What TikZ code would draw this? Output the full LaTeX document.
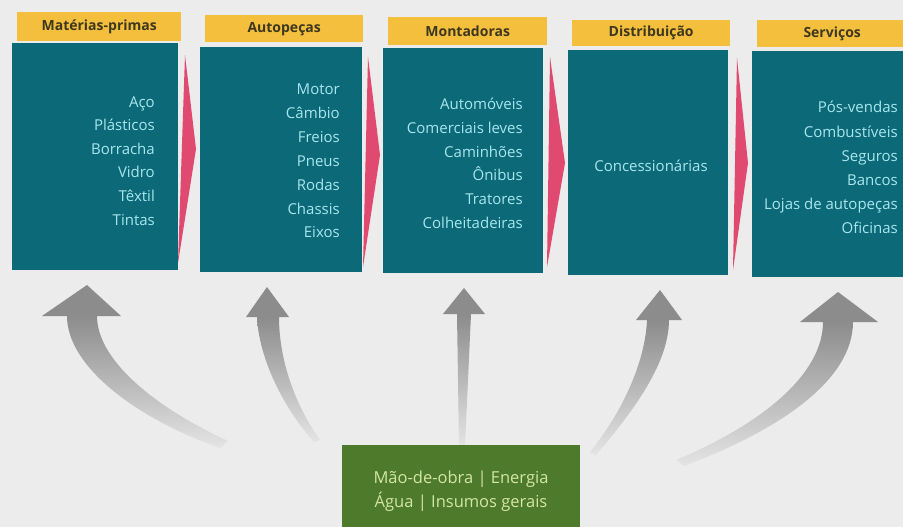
\documentclass[tikz,border=0pt]{standalone}
\usepackage{fontspec}
\setmainfont{Open Sans}
\definecolor{paper}{HTML}{ECECEC}
\definecolor{tealbox}{HTML}{0C6A78}
\definecolor{yel}{HTML}{F4BF3C}
\definecolor{headtxt}{HTML}{3E3820}
\definecolor{itemtxt}{HTML}{A8E6EE}
\definecolor{chevron}{HTML}{E04A70}
\definecolor{greenbox}{HTML}{4E7A2C}
\definecolor{greentxt}{HTML}{D4E6A4}
\definecolor{arrowdark}{HTML}{8C8C8C}
\begin{document}
\begin{tikzpicture}[x=1pt,y=-1pt,
  body/.style={fill=tealbox, anchor=north west, inner sep=0pt},
  head/.style={fill=yel, anchor=north west, inner sep=0pt, text=headtxt,
    font=\bfseries\fontsize{14}{16}\selectfont},
  item/.style={anchor=base east, text=itemtxt, inner sep=0pt,
    font=\fontsize{15}{17}\selectfont},
  chev/.style={fill=chevron},
  shaft/.style={top color=arrowdark, bottom color=paper!92!arrowdark},
  ahead/.style={fill=arrowdark},
  gtext/.style={text=greentxt, inner sep=0pt, anchor=base, font=\fontsize{16.5}{18}\selectfont}
]
\fill[paper] (0,0) rectangle (903,527);
\useasboundingbox (0,0) rectangle (903,527);

% headers
\node[head, minimum width=164pt, minimum height=29pt] (h1) at (17,12) {Matérias-primas};
\node[head, minimum width=158pt, minimum height=27pt] (h2) at (205,15) {Autopeças};
\node[head, minimum width=159pt, minimum height=28pt] (h3) at (388,17) {Montadoras};
\node[head, minimum width=158pt, minimum height=26pt] (h4) at (572,20) {Distribuição};
\node[head, minimum width=150pt, minimum height=27pt] (h5) at (757,20) {Serviços};

% bodies
\node[body, minimum width=166pt, minimum height=227pt] (b1) at (12,43) {};
\node[body, minimum width=162pt, minimum height=225pt] (b2) at (200,47) {};
\node[body, minimum width=160pt, minimum height=225pt] (b3) at (383,48) {};
\node[body, minimum width=160pt, minimum height=225pt] (b4) at (568,50) {};
\node[body, minimum width=155pt, minimum height=226pt] (b5) at (752,51) {};

% chevrons between boxes
\fill[chev] (185,55) -- (196,149) -- (178,263) -- cycle;
\fill[chev] (368,57) -- (380,155) -- (363,267) -- cycle;
\fill[chev] (550,57) -- (565,163) -- (547,267) -- cycle;
\fill[chev] (737,58) -- (748,163) -- (733,270) -- cycle;

% items (baselines)
\foreach \t [count=\i] in {Aço,Plásticos,Borracha,Vidro,Têxtil,Tintas}
  \node[item] (i1-\i) at (155,{107+23.6*(\i-1)}) {\t};
\foreach \t [count=\i] in {Motor,Câmbio,Freios,Pneus,Rodas,Chassis,Eixos}
  \node[item] (i2-\i) at (340,{95+23.8*(\i-1)}) {\t};
\foreach \t [count=\i] in {Automóveis,Comerciais leves,Caminhões,Ônibus,Tratores,Colheitadeiras}
  \node[item] (i3-\i) at (523,{110+23.6*(\i-1)}) {\t};
\node[item, anchor=base] (i4-1) at (651,171) {Concessionárias};
\foreach \t [count=\i] in {Pós-vendas,Combustíveis,Seguros,Bancos,Lojas de autopeças,Oficinas}
  \node[item] (i5-\i) at (898,{113+24*(\i-1)}) {\t};

% gray arrows
\coordinate (t1) at (87,285);
\coordinate (t2) at (267,287);
\coordinate (t3) at (464,288);
\coordinate (t4) at (660,290);
\coordinate (t5) at (838,292);
\shade[shaft] (67,316) .. controls (67,368) and (140,420) .. (220,448) -- (228,441) .. controls (150,405) and (97,358) .. (97,316) -- cycle;
\fill[ahead] (42,316) -- (t1) -- (121,316) -- cycle;
\shade[shaft] (257,317) .. controls (259,360) and (285,410) .. (314,442) -- (320,440) .. controls (295,405) and (279,360) .. (279,317) -- cycle;
\fill[ahead] (246,317) -- (t2) -- (289,317) -- cycle;
\shade[shaft] (457,314) -- (459,446) -- (465,446) -- (471,314) -- cycle;
\fill[ahead] (443,314) -- (t3) -- (485,314) -- cycle;
\shade[shaft] (647,320) .. controls (645,365) and (620,415) .. (590,452) -- (596,455) .. controls (630,415) and (669,365) .. (669,320) -- cycle;
\fill[ahead] (636,320) -- (t4) -- (682,320) -- cycle;
\shade[shaft] (823,322) .. controls (823,375) and (760,425) .. (676,460) -- (684,466) .. controls (780,430) and (853,380) .. (853,322) -- cycle;
\fill[ahead] (800,322) -- (t5) -- (878,322) -- cycle;

% green box
\node[fill=greenbox, anchor=north west, inner sep=0pt, minimum width=238pt, minimum height=82pt] (g) at (342,445) {};
\node[gtext] (g1) at (461,483) {Mão-de-obra | Energia};
\node[gtext] (g2) at (461,507) {Água | Insumos gerais};
\end{tikzpicture}
\end{document}
